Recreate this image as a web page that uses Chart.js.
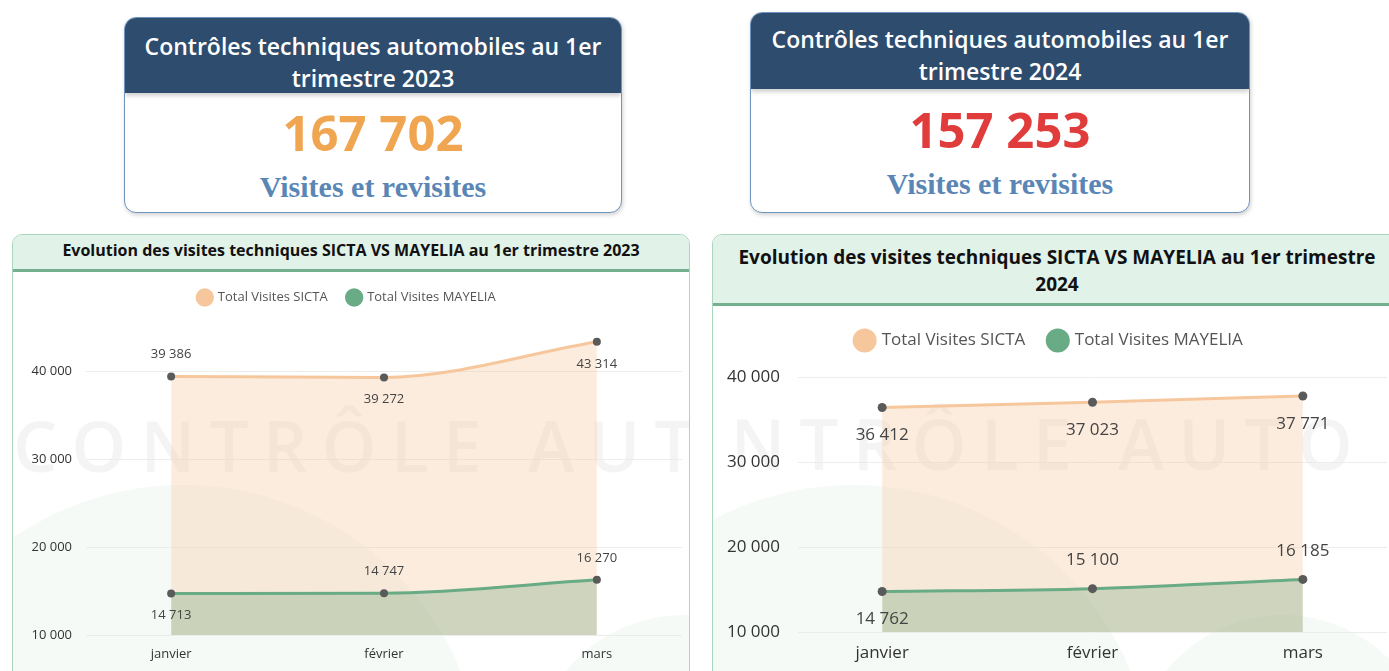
<!DOCTYPE html>
<html lang="fr">
<head>
<meta charset="utf-8">
<title>Contrôles techniques automobiles</title>
<script src="https://cdn.jsdelivr.net/npm/chart.js@4.4.1/dist/chart.umd.min.js"></script>
<style>
body { margin:0; width:1389px; height:671px; overflow:hidden; background:#fff; position:relative; font-family:"Open Sans", sans-serif; }
.card { position:absolute; box-sizing:border-box; background:#fff; border:1.5px solid #6f95bf; border-radius:12px; box-shadow:1px 2px 4px rgba(0,0,0,0.18); overflow:hidden; text-align:center; }
.card .head { position:absolute; left:0; right:0; top:0; background:#2e4c6d; color:#fff; font-weight:600; font-size:23px; line-height:32px; box-shadow:0 3px 4px rgba(0,0,0,0.18); white-space:nowrap; }
.card .big { position:absolute; left:0; right:0; font-weight:700; font-size:49px; line-height:56px; }
.card .sub { position:absolute; left:0; right:0; font-family:"Liberation Serif", serif; font-weight:700; font-size:30px; line-height:34px; color:#5a86b6; }
.panel { position:absolute; box-sizing:border-box; border:1px solid #a9d6bd; border-radius:10px; overflow:hidden; }
.panel .head { position:relative; background:#e1f2e8; border-bottom:3px solid #74af8e; text-align:center; font-weight:700; color:#111; z-index:2; white-space:nowrap; }
.wm { position:absolute; white-space:nowrap; font-size:70px; font-weight:600; letter-spacing:14px; color:rgba(0,0,0,0.045); }
.blob { position:absolute; border-radius:50%; background:rgba(110,180,140,0.07); }
canvas { position:absolute; }
</style>
</head>
<body>

<div class="card" style="left:124px; top:17px; width:498px; height:196px;">
  <div class="head" style="height:75px; padding-top:12px; box-sizing:border-box;">Contrôles techniques automobiles au 1er<br>trimestre 2023</div>
  <div class="big" style="top:86px; color:#f0a550;">167 702</div>
  <div class="sub" style="top:152px;">Visites et revisites</div>
</div>

<div class="card" style="left:750px; top:12px; width:500px; height:201px;">
  <div class="head" style="height:76px; padding-top:10px; box-sizing:border-box;">Contrôles techniques automobiles au 1er<br>trimestre 2024</div>
  <div class="big" style="top:88px; color:#e03c3c;">157 253</div>
  <div class="sub" style="top:154px;">Visites et revisites</div>
</div>

<div class="panel" style="left:12px; top:234px; width:678px; height:470px;">
  <div class="head" style="height:34px; font-size:16px; line-height:31px;">Evolution des visites techniques SICTA VS MAYELIA au 1er trimestre 2023</div>
  <div class="wm" style="left:0px; top:162px;">CONTRÔLE AUTO</div>
  <div class="blob" style="left:-130px; top:250px; width:600px; height:600px;"></div>
  <div class="blob" style="left:520px; top:380px; width:300px; height:300px;"></div>
</div>

<div class="panel" style="left:712px; top:234px; width:690px; height:470px;">
  <div class="head" style="height:71px; padding-top:9px; box-sizing:border-box; font-size:19px; line-height:27px;">Evolution des visites techniques SICTA VS MAYELIA au 1er trimestre<br>2024</div>
  <div class="wm" style="left:-110px; top:160px;">CONTRÔLE AUTO</div>
  <div class="blob" style="left:-160px; top:250px; width:600px; height:600px;"></div>
  <div class="blob" style="left:420px; top:380px; width:300px; height:300px;"></div>
</div>

<canvas id="chart2023" width="678" height="400" style="left:12px; top:271px;"></canvas>
<canvas id="chart2024" width="700" height="363" style="left:712px; top:308px;"></canvas>

<script>
const mois = ['janvier', 'février', 'mars'];
const sicta2023 = [39386, 39272, 43314];
const mayelia2023 = [14713, 14747, 16270];
const sicta2024 = [36412, 37023, 37771];
const mayelia2024 = [14762, 15100, 16185];
const yTicks = [10000, 20000, 30000, 40000];

// where each value label sits relative to its point
const posSicta2023 = ['top', 'bottom', 'bottom'];
const posMayelia2023 = ['bottom', 'top', 'top'];
const posSicta2024 = ['bottom', 'bottom', 'bottom'];
const posMayelia2024 = ['bottom', 'top', 'top'];

function fmt(v){
    return String(v).replace(/\B(?=(\d{3})+(?!\d))/g, ' ');
}

function valueLabels(size, offset){
    return {
        id: 'valueLabels',
        afterDatasetsDraw(chart){
            const ctx = chart.ctx;
            ctx.save();
            ctx.font = size + 'px "Open Sans"';
            ctx.fillStyle = '#444';
            ctx.textAlign = 'center';
            ctx.textBaseline = 'middle';
            chart.data.datasets.forEach((ds, i) => {
                chart.getDatasetMeta(i).data.forEach((pt, j) => {
                    const dy = ds.labelPos[j] === 'top' ? -offset : offset;
                    ctx.fillText(fmt(ds.data[j].y), pt.x, pt.y + dy);
                });
            });
            ctx.restore();
        }
    };
}

function legendHeight(h){
    return {
        id: 'legendHeight',
        beforeInit(chart){
            const legend = chart.legend;
            const fit = legend.fit;
            legend.fit = function(){ fit.call(this); this.height = h; };
        }
    };
}

function makeChart(id, sicta, mayelia, posS, posM, o){
    const ctx = document.getElementById(id).getContext('2d');
    return new Chart(ctx, {
        type: 'line',
        data: {
            datasets: [{
                label: 'Total Visites SICTA',
                data: sicta.map((v, i) => ({x: i, y: v})),
                labelPos: posS,
                borderColor: '#f6c79c',
                backgroundColor: 'rgba(246,205,168,0.38)',
                fill: 'start',
                order: 2,
                borderWidth: 3,
                cubicInterpolationMode: 'monotone',
                pointRadius: o.point,
                pointBackgroundColor: '#5a5a5a',
                pointBorderWidth: 0
            }, {
                label: 'Total Visites MAYELIA',
                data: mayelia.map((v, i) => ({x: i, y: v})),
                labelPos: posM,
                borderColor: '#68ab85',
                backgroundColor: 'rgba(120,170,130,0.35)',
                fill: 'start',
                order: 1,
                borderWidth: 3,
                cubicInterpolationMode: 'monotone',
                pointRadius: o.point,
                pointBackgroundColor: '#5a5a5a',
                pointBorderWidth: 0
            }]
        },
        options: {
            responsive: false,
            animation: false,
            layout: { padding: { left: 0, right: o.padRight, top: 0, bottom: 0 } },
            plugins: {
                tooltip: { enabled: false },
                legend: {
                    position: 'top',
                    labels: {
                        usePointStyle: true,
                        pointStyle: 'circle',
                        boxWidth: o.box,
                        boxHeight: o.box,
                        padding: o.legendPad,
                        color: '#555',
                        font: { family: 'Open Sans', size: o.font },
                        generateLabels(chart){
                            return chart.data.datasets.map((ds, i) => ({
                                text: ds.label,
                                fillStyle: ds.borderColor,
                                strokeStyle: ds.borderColor,
                                lineWidth: 0,
                                pointStyle: 'circle',
                                datasetIndex: i,
                                fontColor: '#555'
                            }));
                        }
                    }
                }
            },
            scales: {
                x: {
                    type: 'linear',
                    min: -0.4,
                    max: 2.4,
                    grid: { display: false },
                    border: { display: false },
                    afterBuildTicks(s){ s.ticks = mois.map((m, i) => ({value: i})); },
                    afterFit(s){ s.height = o.xHeight; },
                    ticks: {
                        padding: o.xPad,
                        color: '#333',
                        font: { family: 'Open Sans', size: o.font },
                        callback: v => mois[v]
                    }
                },
                y: {
                    min: 10000,
                    max: o.yMax,
                    grid: { color: '#ececec', drawTicks: false },
                    border: { display: false },
                    afterBuildTicks(s){ s.ticks = yTicks.map(v => ({value: v})); },
                    afterFit(s){ s.width = o.yWidth; },
                    ticks: {
                        padding: o.yPad,
                        color: '#333',
                        font: { family: 'Open Sans', size: o.font },
                        callback: v => fmt(v)
                    }
                }
            }
        },
        plugins: [legendHeight(o.legendH), valueLabels(o.font, o.labelOff)]
    });
}

makeChart('chart2023', sicta2023, mayelia2023, posSicta2023, posMayelia2023, {
    font: 13, box: 13, point: 4, legendPad: 20, legendH: 56, yMax: 45000,
    yWidth: 74, yPad: 14, xHeight: 36, xPad: 3, padRight: 8, labelOff: 22
});

makeChart('chart2024', sicta2024, mayelia2024, posSicta2024, posMayelia2024, {
    font: 17, box: 17, point: 4.5, legendPad: 24, legendH: 52, yMax: 42000,
    yWidth: 86, yPad: 18, xHeight: 39, xPad: 3, padRight: 25, labelOff: 28
});
</script>
</body>
</html>
